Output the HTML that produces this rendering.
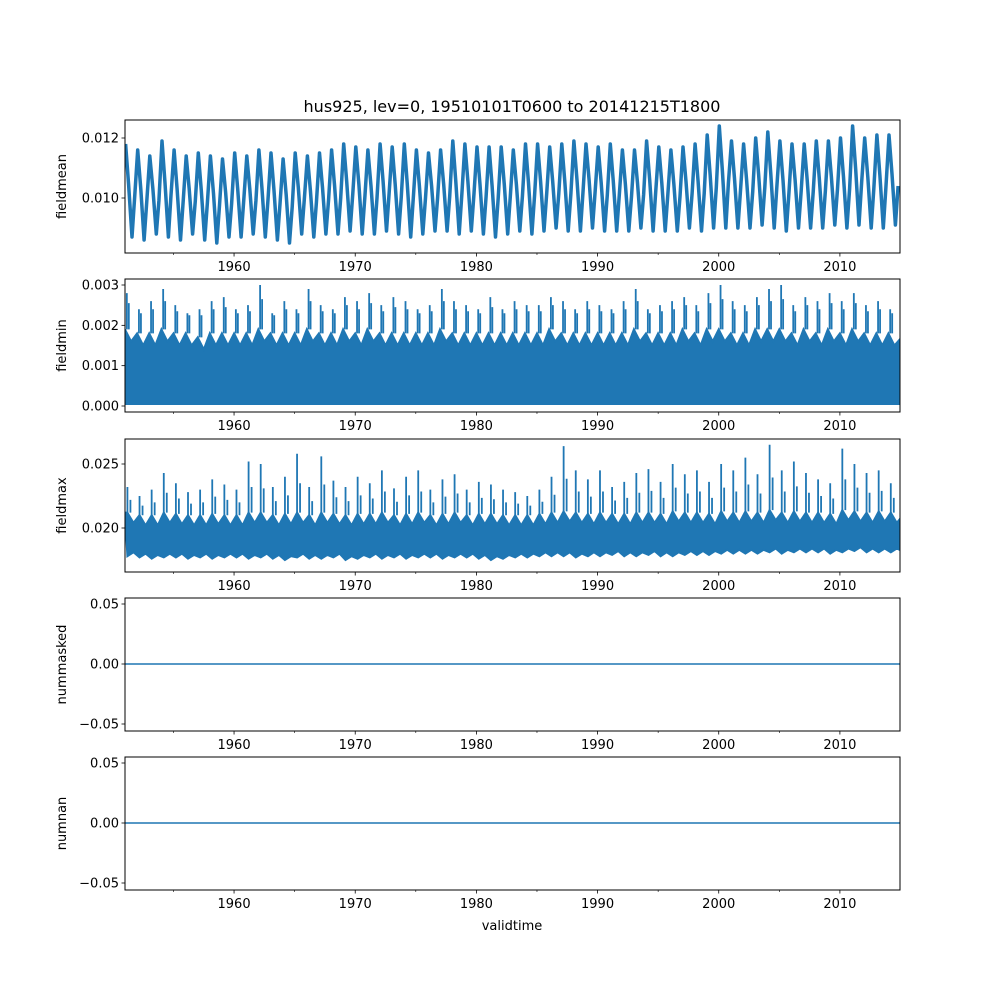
<!DOCTYPE html>
<html><head><meta charset="utf-8"><style>
body{margin:0;background:#fff}
svg{display:block}
text{font-family:"DejaVu Sans","Liberation Sans",sans-serif;fill:#000}
</style></head><body>
<svg id="c" width="1000" height="1000" viewBox="0 0 1000 1000"></svg>
<script>
// ---- data ----
const startYear = 1951.0, endYear = 2014.96;
const xTicks = [1960,1970,1980,1990,2000,2010];
const meanPeaks = [0.0118,0.0116,0.0114,0.0119,0.0116,0.0114,0.0115,0.0114,0.0113,0.0115,0.0114,0.0116,0.0115,0.0113,0.0115,0.0114,0.0115,0.0116,0.0118,0.0117,0.0116,0.0118,0.0117,0.0118,0.0116,0.0115,0.0116,0.0119,0.0118,0.0117,0.0117,0.0117,0.0116,0.0118,0.0118,0.0117,0.0118,0.0119,0.0118,0.0117,0.0118,0.0116,0.0116,0.0119,0.0117,0.0116,0.0117,0.0118,0.0121,0.0124,0.0119,0.0118,0.0120,0.0122,0.0119,0.0118,0.0118,0.0119,0.0119,0.0120,0.0124,0.0120,0.0121,0.0121];
const meanTroughs = [0.0087,0.0086,0.0088,0.0087,0.0086,0.0088,0.0086,0.0085,0.0087,0.0087,0.0088,0.0087,0.0086,0.0085,0.0088,0.0087,0.0088,0.0088,0.0089,0.0088,0.0088,0.0089,0.0088,0.0087,0.0088,0.0089,0.0089,0.0088,0.0089,0.0088,0.0087,0.0088,0.0089,0.0088,0.0089,0.0090,0.0089,0.0089,0.0090,0.0089,0.0089,0.0089,0.0090,0.0089,0.0089,0.0089,0.0090,0.0089,0.0090,0.0090,0.0090,0.0090,0.0091,0.0090,0.0089,0.0090,0.0090,0.0090,0.0091,0.0090,0.0091,0.0090,0.0090,0.0091];
const minMax = [0.0028,0.0024,0.0026,0.0029,0.0025,0.0023,0.0024,0.0026,0.0027,0.0024,0.0025,0.0030,0.0023,0.0026,0.0024,0.0029,0.0025,0.0024,0.0027,0.0026,0.0028,0.0025,0.0027,0.0026,0.0024,0.0025,0.0029,0.0026,0.0025,0.0024,0.0027,0.0024,0.0026,0.0025,0.0025,0.0027,0.0026,0.0024,0.0026,0.0025,0.0024,0.0026,0.0029,0.0024,0.0025,0.0026,0.0027,0.0025,0.0028,0.0030,0.0026,0.0025,0.0027,0.0029,0.0030,0.0025,0.0027,0.0026,0.0028,0.0026,0.0028,0.0025,0.0026,0.0024];
const minBand = [0.0019,0.0018,0.0018,0.0019,0.0018,0.0018,0.0017,0.0018,0.0018,0.0018,0.0018,0.0019,0.0018,0.0018,0.0018,0.0019,0.0018,0.0018,0.0019,0.0018,0.0019,0.0018,0.0018,0.0018,0.0018,0.0018,0.0019,0.0018,0.0018,0.0018,0.0018,0.0018,0.0018,0.0018,0.0018,0.0019,0.0018,0.0018,0.0018,0.0018,0.0018,0.0018,0.0019,0.0018,0.0018,0.0018,0.0019,0.0018,0.0019,0.0019,0.0018,0.0018,0.0019,0.0019,0.0019,0.0018,0.0019,0.0018,0.0019,0.0018,0.0019,0.0018,0.0018,0.0018];
const maxMax = [0.0232,0.0225,0.0230,0.0243,0.0235,0.0228,0.0230,0.0238,0.0234,0.0230,0.0252,0.0250,0.0232,0.0240,0.0258,0.0232,0.0256,0.0237,0.0232,0.0240,0.0235,0.0245,0.0231,0.0240,0.0245,0.0230,0.0238,0.0242,0.0230,0.0236,0.0234,0.0230,0.0228,0.0225,0.0230,0.0240,0.0264,0.0245,0.0238,0.0245,0.0232,0.0236,0.0243,0.0246,0.0236,0.0250,0.0242,0.0245,0.0236,0.0250,0.0245,0.0255,0.0242,0.0265,0.0245,0.0252,0.0243,0.0238,0.0235,0.0262,0.0250,0.0243,0.0245,0.0235];
const maxBandTop = [0.0212,0.0210,0.0210,0.0212,0.0211,0.0210,0.0210,0.0211,0.0210,0.0210,0.0212,0.0212,0.0210,0.0211,0.0212,0.0210,0.0212,0.0211,0.0210,0.0211,0.0211,0.0212,0.0210,0.0211,0.0212,0.0210,0.0211,0.0212,0.0210,0.0211,0.0211,0.0210,0.0210,0.0210,0.0211,0.0212,0.0213,0.0212,0.0211,0.0212,0.0211,0.0211,0.0212,0.0212,0.0211,0.0213,0.0212,0.0212,0.0211,0.0213,0.0212,0.0213,0.0212,0.0214,0.0212,0.0213,0.0212,0.0212,0.0211,0.0214,0.0213,0.0212,0.0213,0.0212];
const maxBandLow = [0.0178,0.0177,0.0176,0.0177,0.0177,0.0176,0.0177,0.0176,0.0177,0.0177,0.0176,0.0177,0.0176,0.0175,0.0177,0.0176,0.0176,0.0177,0.0175,0.0176,0.0177,0.0176,0.0177,0.0176,0.0177,0.0177,0.0176,0.0177,0.0177,0.0176,0.0175,0.0176,0.0177,0.0177,0.0178,0.0178,0.0178,0.0177,0.0178,0.0178,0.0179,0.0178,0.0178,0.0179,0.0178,0.0178,0.0179,0.0179,0.0179,0.0180,0.0180,0.0180,0.0180,0.0181,0.0180,0.0181,0.0181,0.0181,0.0180,0.0181,0.0182,0.0181,0.0181,0.0181];
const maskedVal = 0, nanVal = 0;

const svg = document.getElementById('c');
const NS = 'http://www.w3.org/2000/svg';
const C = '#1f77b4';
const L = 125, R = 900;
function X(y){ return L + (y - startYear) / (endYear - startYear) * (R - L); }
function mk(tag, attrs, parent){ const e=document.createElementNS(NS,tag); for(const k in attrs) e.setAttribute(k,attrs[k]); (parent||svg).appendChild(e); return e; }

const panels = [
 {name:'fieldmean', top:120, bot:253, v0:0.010, p0:198, v1:0.012, p1:138, ticks:[0.010,0.012], fmt:3},
 {name:'fieldmin', top:279, bot:412, v0:0.000, p0:406, v1:0.003, p1:285, ticks:[0.000,0.001,0.002,0.003], fmt:3},
 {name:'fieldmax', top:439, bot:572, v0:0.020, p0:528, v1:0.025, p1:464, ticks:[0.020,0.025], fmt:3},
 {name:'nummasked', top:598, bot:731, v0:0, p0:664, v1:0.05, p1:604, ticks:[-0.05,0,0.05], fmt:2},
 {name:'numnan', top:757, bot:890, v0:0, p0:823, v1:0.05, p1:763, ticks:[-0.05,0,0.05], fmt:2}
];

const t = mk('text',{x:512,y:112,'text-anchor':'middle','font-size':'16'});
t.textContent='hus925, lev=0, 19510101T0600 to 20141215T1800';
 

const n = minBand.length;
panels.forEach((p,i)=>{
  const g = mk('g',{});
  
  
  const Y = v => p.p0 + (v - p.v0) / (p.v1 - p.v0) * (p.p1 - p.p0);
  const clipId='cl'+i;
  const cp = mk('clipPath',{id:clipId},g); mk('rect',{x:L,y:p.top,width:R-L,height:p.bot-p.top},cp);
  const dg = mk('g',{'clip-path':'url(#'+clipId+')'},g);
  
  
  if(i===0){
    let d='';
    meanPeaks.forEach((v,k)=>{
      const y0=startYear+k;
      d += (k?'L':'M')+X(y0+0.05).toFixed(1)+','+Y(v).toFixed(1);
      d += 'L'+X(y0+0.3).toFixed(1)+','+Y((v+meanTroughs[k])/2+0.0002).toFixed(1);
      d += 'L'+X(y0+0.58).toFixed(1)+','+Y(meanTroughs[k]).toFixed(1);
      d += 'L'+X(y0+0.8).toFixed(1)+','+Y((v+meanTroughs[k])/2-0.0002).toFixed(1);
    });
    mk('path',{d:d,fill:'none',stroke:C,'stroke-width':3.5,'stroke-linejoin':'round'},dg);
  } else if(i===1){
    let d='M'+X(startYear)+','+Y(0.0001);
    minBand.forEach((v,k)=>{ d+='L'+X(startYear+k).toFixed(1)+','+Y(v).toFixed(1)+'L'+X(startYear+k+0.5).toFixed(1)+','+Y(v-0.0003).toFixed(1); });
    d+='L'+(R+5)+','+Y(minBand[n-1])+'L'+(R+5)+','+Y(0.00005);
    for(let k=n-1;k>=0;k--){ d+='L'+X(startYear+k).toFixed(1)+','+Y(0.00005).toFixed(1); }
    d+='Z';
    mk('path',{d:d,fill:C,stroke:C,'stroke-width':2},dg);
    minMax.forEach((v,k)=>{
      const x=X(startYear+k+0.15);
      mk('path',{d:'M'+x+','+Y(minBand[k])+'L'+x+','+Y(v)+'M'+(x+2)+','+Y(minBand[k])+'L'+(x+2)+','+Y((v+minBand[k])/2+0.0002),stroke:C,'stroke-width':1.8,fill:'none'},dg);
    });
  } else if(i===2){
    let d='M'+X(startYear)+','+Y(maxBandTop[0]);
    maxBandTop.forEach((v,k)=>{ d+='L'+X(startYear+k+0.2).toFixed(1)+','+Y(v).toFixed(1)+'L'+X(startYear+k+0.7).toFixed(1)+','+Y(v-0.0008).toFixed(1); });
    d+='L'+(R+5)+','+Y(maxBandTop[n-1])+'L'+(R+5)+','+Y(maxBandLow[n-1]);
    for(let k=n-1;k>=0;k--){ d+='L'+X(startYear+k+0.7).toFixed(1)+','+Y(maxBandLow[k]+0.0003).toFixed(1)+'L'+X(startYear+k+0.2).toFixed(1)+','+Y(maxBandLow[k]).toFixed(1); }
    d+='Z';
    mk('path',{d:d,fill:C,stroke:C,'stroke-width':2},dg);
    maxMax.forEach((v,k)=>{
      const x=X(startYear+k+0.2);
      mk('path',{d:'M'+x+','+Y(maxBandTop[k])+'L'+x+','+Y(v)+'M'+(x+3)+','+Y(maxBandTop[k])+'L'+(x+3)+','+Y((v+maxBandTop[k])/2),stroke:C,'stroke-width':1.8,fill:'none'},dg);
    });
  } else {
    const v = i===3?maskedVal:nanVal;
    mk('line',{x1:L,x2:R,y1:Y(v),y2:Y(v),stroke:C,'stroke-width':1.5},dg);
  }
  mk('rect',{x:L,y:p.top,width:R-L,height:p.bot-p.top,fill:'none',stroke:'#000','stroke-width':1},g);
  p.ticks.forEach(v=>{
    const y=Y(v);
    mk('line',{x1:L-3.5,x2:L,y1:y,y2:y,stroke:'#000','stroke-width':0.8},g);
    const tx=mk('text',{x:L-6,y:y+4.5,'text-anchor':'end','font-size':'13'},g);
    tx.textContent = v.toFixed(p.fmt).replace('-','\u2212');
     
  });
  xTicks.forEach(yr=>{
    const x=X(yr);
    mk('line',{x1:x,x2:x,y1:p.bot,y2:p.bot+3.5,stroke:'#000','stroke-width':0.8},g);
    const tx=mk('text',{x:x,y:p.bot+18,'text-anchor':'middle','font-size':'13'},g);
    tx.textContent=yr;
     
  });
  for(let yr=1955; yr<=2015; yr+=10){ const x=X(yr); if(x<=R) mk('line',{x1:x,x2:x,y1:p.bot,y2:p.bot+2,stroke:'#000','stroke-width':0.6},g); }
  const yl=mk('text',{x:0,y:0,'text-anchor':'middle','font-size':'13',transform:'translate(66,'+((p.top+p.bot)/2)+') rotate(-90)'},g);
  yl.textContent=p.name;
   
});
const xl=mk('text',{x:512,y:930,'text-anchor':'middle','font-size':'13'});
xl.textContent='validtime';
 
</script>
</body></html>
